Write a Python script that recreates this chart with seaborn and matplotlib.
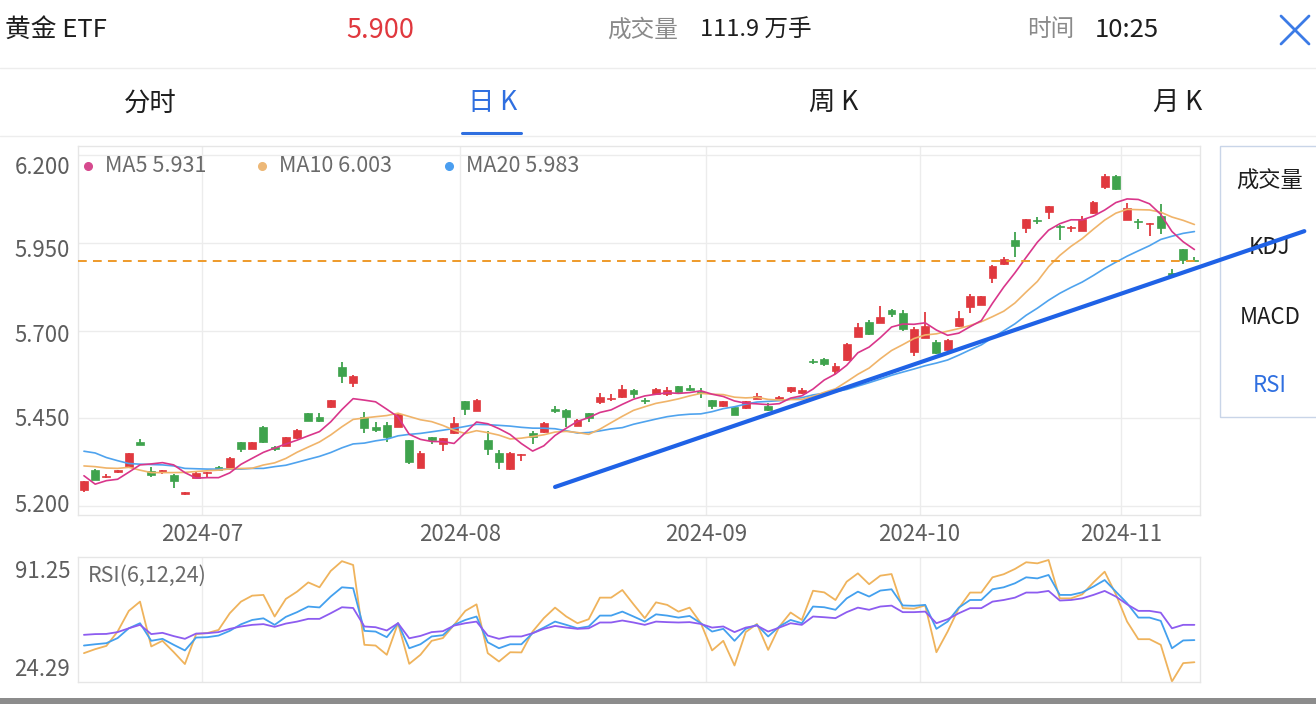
import numpy as np
import pandas as pd
import matplotlib
matplotlib.use("Agg")
import matplotlib.pyplot as plt
from matplotlib.patches import Rectangle
from matplotlib.lines import Line2D
import seaborn as sns

# ---------------- data ----------------
open_ = [5.245, 5.302, 5.282, 5.298, 5.310, 5.383, 5.300, 5.297, 5.289, 5.234,
         5.281, 5.293, 5.310, 5.308, 5.381, 5.362, 5.426, 5.367, 5.372, 5.394,
         5.464, 5.453, 5.481, 5.596, 5.550, 5.453, 5.426, 5.432, 5.426, 5.388,
         5.308, 5.396, 5.376, 5.407, 5.499, 5.472, 5.389, 5.350, 5.304, 5.345,
         5.407, 5.410, 5.476, 5.474, 5.429, 5.464, 5.496, 5.505, 5.510, 5.532,
         5.501, 5.520, 5.520, 5.542, 5.536, 5.526, 5.502, 5.484, 5.481, 5.480,
         5.506, 5.486, 5.506, 5.529, 5.523, 5.612, 5.620, 5.584, 5.615, 5.682,
         5.725, 5.722, 5.760, 5.750, 5.639, 5.680, 5.669, 5.644, 5.712, 5.768,
         5.774, 5.849, 5.889, 5.960, 5.994, 6.016, 6.040, 6.000, 5.992, 5.985,
         6.035, 6.109, 6.142, 6.016, 6.012, 6.004, 6.027, 5.865, 5.932, 5.903]
high = [5.270, 5.304, 5.292, 5.303, 5.352, 5.391, 5.310, 5.303, 5.290, 5.241,
        5.297, 5.297, 5.314, 5.339, 5.383, 5.382, 5.427, 5.371, 5.397, 5.418,
        5.466, 5.466, 5.503, 5.612, 5.573, 5.469, 5.438, 5.438, 5.463, 5.389,
        5.358, 5.397, 5.395, 5.453, 5.500, 5.504, 5.413, 5.359, 5.353, 5.349,
        5.413, 5.438, 5.486, 5.476, 5.447, 5.465, 5.522, 5.518, 5.545, 5.533,
        5.507, 5.535, 5.539, 5.543, 5.545, 5.537, 5.503, 5.499, 5.482, 5.499,
        5.521, 5.493, 5.513, 5.540, 5.536, 5.618, 5.622, 5.607, 5.664, 5.723,
        5.731, 5.770, 5.761, 5.760, 5.710, 5.753, 5.672, 5.675, 5.755, 5.804,
        5.799, 5.886, 5.911, 5.982, 6.020, 6.025, 6.057, 6.002, 5.998, 6.027,
        6.069, 6.146, 6.143, 6.065, 6.020, 6.007, 6.061, 5.877, 5.933, 5.909]
low = [5.241, 5.274, 5.281, 5.295, 5.308, 5.373, 5.283, 5.291, 5.252, 5.232,
       5.280, 5.281, 5.301, 5.307, 5.355, 5.361, 5.380, 5.357, 5.370, 5.392,
       5.441, 5.440, 5.480, 5.550, 5.539, 5.407, 5.410, 5.381, 5.425, 5.319,
       5.307, 5.378, 5.357, 5.405, 5.458, 5.471, 5.346, 5.305, 5.303, 5.329,
       5.378, 5.408, 5.465, 5.426, 5.428, 5.440, 5.491, 5.498, 5.508, 5.508,
       5.491, 5.519, 5.513, 5.518, 5.528, 5.508, 5.477, 5.483, 5.459, 5.477,
       5.505, 5.470, 5.505, 5.523, 5.518, 5.604, 5.600, 5.577, 5.614, 5.681,
       5.689, 5.721, 5.739, 5.699, 5.629, 5.678, 5.634, 5.643, 5.710, 5.751,
       5.773, 5.836, 5.888, 5.911, 5.979, 6.004, 6.020, 5.958, 5.982, 5.984,
       6.034, 6.104, 6.102, 6.015, 5.989, 5.970, 5.976, 5.857, 5.890, 5.898]
close = [5.270, 5.275, 5.284, 5.302, 5.350, 5.374, 5.289, 5.302, 5.270, 5.240,
         5.295, 5.296, 5.302, 5.338, 5.362, 5.381, 5.381, 5.363, 5.396, 5.417,
         5.443, 5.441, 5.502, 5.572, 5.572, 5.422, 5.417, 5.396, 5.462, 5.324,
         5.350, 5.387, 5.394, 5.436, 5.477, 5.503, 5.362, 5.324, 5.352, 5.348,
         5.396, 5.437, 5.472, 5.455, 5.445, 5.451, 5.510, 5.509, 5.534, 5.518,
         5.498, 5.534, 5.531, 5.524, 5.530, 5.523, 5.486, 5.498, 5.460, 5.498,
         5.514, 5.475, 5.512, 5.539, 5.531, 5.610, 5.604, 5.598, 5.663, 5.710,
         5.691, 5.739, 5.749, 5.706, 5.706, 5.712, 5.636, 5.674, 5.737, 5.798,
         5.798, 5.884, 5.904, 5.941, 6.019, 6.014, 6.056, 5.996, 5.997, 6.018,
         6.068, 6.142, 6.103, 6.049, 6.010, 6.006, 5.992, 5.858, 5.902, 5.900]

# moving-average values for the first days (window not yet full)
ma5_lead = [5.286, 5.262, 5.272, 5.276]
ma10_lead = [5.314, 5.312, 5.308, 5.307, 5.310, 5.302, 5.295, 5.295, 5.295]
ma20_lead = [5.356, 5.351, 5.338, 5.329, 5.321, 5.319, 5.318, 5.317, 5.314, 5.307,
             5.306, 5.305, 5.305, 5.305, 5.305, 5.307, 5.307, 5.312, 5.316]

rsi6 = [39.9, 42.1, 43.9, 51.8, 63.2, 68.3, 43.6, 46.7, 40.5, 33.9,
        50.4, 51.0, 52.7, 61.9, 68.3, 71.6, 72.0, 60.1, 69.8, 73.8,
        78.9, 76.2, 85.2, 90.6, 88.5, 44.5, 44.1, 39.0, 56.4, 34.0,
        39.0, 46.7, 48.2, 55.5, 63.2, 66.8, 39.9, 35.3, 40.4, 40.3,
        51.8, 59.2, 65.0, 60.1, 56.4, 58.6, 70.5, 70.5, 74.7, 66.8,
        59.2, 67.9, 66.5, 62.8, 65.0, 56.4, 41.4, 46.7, 33.1, 51.5,
        56.0, 41.7, 54.6, 62.3, 58.2, 74.3, 73.4, 69.2, 79.3, 83.9,
        77.9, 82.6, 83.5, 64.7, 64.4, 66.2, 40.4, 51.8, 64.7, 73.3,
        73.3, 81.7, 83.4, 86.3, 90.0, 89.4, 91.25, 70.1, 70.1, 72.3,
        78.9, 84.8, 72.3, 57.3, 47.6, 47.6, 44.5, 24.29, 34.4, 34.9]
rsi12 = [44.1, 44.8, 45.4, 48.2, 53.6, 56.4, 46.7, 47.8, 44.5, 41.4,
         48.5, 48.7, 49.6, 52.2, 55.8, 58.2, 59.1, 55.5, 59.9, 62.5,
         65.6, 65.1, 71.1, 76.2, 75.7, 52.2, 51.8, 48.7, 56.4, 42.6,
         44.8, 49.1, 49.8, 55.5, 58.2, 60.1, 45.9, 42.6, 44.8, 44.8,
         50.9, 54.0, 57.3, 55.5, 53.6, 54.6, 60.6, 60.6, 62.8, 60.1,
         57.3, 61.3, 60.6, 59.5, 60.4, 56.4, 51.8, 53.3, 46.7, 53.3,
         55.5, 49.1, 54.6, 58.2, 56.4, 65.6, 65.2, 63.8, 70.1, 73.8,
         71.1, 74.4, 75.1, 66.2, 66.0, 66.5, 53.3, 57.3, 65.0, 69.2,
         69.2, 75.1, 76.2, 78.4, 81.7, 81.1, 83.0, 72.0, 72.0, 73.4,
         76.6, 80.2, 73.8, 67.4, 59.5, 59.5, 57.7, 42.6, 46.9, 47.1]
rsi24 = [50.0, 50.4, 50.5, 51.5, 53.6, 55.5, 50.4, 51.1, 49.3, 47.8,
         50.7, 50.9, 51.5, 53.3, 54.6, 55.5, 55.9, 54.4, 56.2, 57.3,
         58.8, 58.8, 61.9, 65.2, 64.8, 54.6, 54.2, 52.4, 56.4, 48.1,
         49.4, 51.5, 52.0, 55.1, 56.4, 57.3, 49.6, 47.8, 49.1, 49.1,
         50.9, 53.3, 54.9, 54.0, 53.3, 53.6, 56.8, 56.8, 57.9, 56.8,
         55.5, 57.3, 57.0, 56.8, 57.0, 56.0, 54.0, 54.6, 51.5, 54.0,
         55.1, 51.8, 54.0, 56.4, 55.5, 60.1, 59.7, 59.2, 62.5, 65.0,
         63.8, 65.6, 66.1, 62.5, 62.5, 62.8, 56.4, 58.6, 61.9, 64.7,
         64.7, 68.3, 69.2, 70.5, 73.3, 73.3, 74.2, 68.9, 69.2, 70.1,
         72.0, 74.2, 71.1, 66.8, 63.2, 63.2, 62.2, 53.6, 55.5, 55.5]

month_labels = ["2024-07", "2024-08", "2024-09", "2024-10", "2024-11"]
month_first_idx = [11, 34, 56, 75, 93]
price_ticks = [5.2, 5.45, 5.7, 5.95, 6.2]
price_tick_labels = ["5.200", "5.450", "5.700", "5.950", "6.200"]
last_price = 5.900
legend_names = ["MA5", "MA10", "MA20"]
legend_values = ["5.931", "6.003", "5.983"]
rsi_max_label, rsi_min_label = "91.25", "24.29"
# hand-drawn trend line (start / end in chart coordinates)
trend_x = [42.0, 108.8]
trend_y = [5.254, 5.984]

# ---------------- style ----------------
sns.set_theme(style="white")
plt.rcParams['font.family'] = ['Noto Sans CJK SC', 'DejaVu Sans']

RED, GREEN = "#E0393F", "#3FA34D"
C_MA5, C_MA10, C_MA20 = "#D9368B", "#F0B46A", "#4FA3EE"
C_R6, C_R12, C_R24 = "#EFB35C", "#43A0EE", "#8D5CF0"
BLUE_UI = "#2F6FE0"
GRID = "#ECECEC"
TXT_GRAY = "#5E5E5E"
FS_TICK = 16
FS_LEG = 15.5

W, H = 1316, 704
fig = plt.figure(figsize=(W / 100, H / 100), dpi=100)
fig.patch.set_facecolor("white")


def T(px, py, s, **kw):
    return fig.text(px / W, 1 - py / H, s, **kw)


def HL(py, x0=0, x1=W, color="#EDEDED", lw=1.0):
    fig.add_artist(Line2D([x0 / W, x1 / W], [1 - py / H, 1 - py / H],
                          transform=fig.transFigure, color=color, lw=lw))


n = len(close)
idx = np.arange(n)
o, c, hi, lo = map(np.asarray, (open_, close, high, low))

# ---------------- main K-line axes ----------------
ax_l, ax_r, ax_t, ax_b = 78, 1200, 146, 515
ax = fig.add_axes([ax_l / W, 1 - ax_b / H, (ax_r - ax_l) / W, (ax_b - ax_t) / H])
ax.set_facecolor("white")

up = c >= o
cols = np.where(up, RED, GREEN)
ax.vlines(idx, lo, hi, colors=cols, lw=1.3, zorder=3)
body_bottom = np.minimum(o, c)
body_h = np.maximum(np.abs(c - o), 0.0025)
ax.bar(idx, body_h, bottom=body_bottom, width=0.7, color=cols,
       edgecolor=cols, lw=0.5, zorder=4)

cs = pd.Series(c)
ma5 = cs.rolling(5).mean().to_numpy()
ma5[:len(ma5_lead)] = ma5_lead
ma10 = cs.rolling(10).mean().to_numpy()
ma10[:len(ma10_lead)] = ma10_lead
ma20 = cs.rolling(20).mean().to_numpy()
ma20[:len(ma20_lead)] = ma20_lead

sns.lineplot(x=idx, y=ma20, ax=ax, color=C_MA20, lw=1.2, zorder=5, legend=False)
sns.lineplot(x=idx, y=ma10, ax=ax, color=C_MA10, lw=1.2, zorder=5, legend=False)
sns.lineplot(x=idx, y=ma5, ax=ax, color=C_MA5, lw=1.2, zorder=6, legend=False)

ax.axhline(last_price, color="#EE9A2A", lw=1.4, ls=(0, (4.5, 3.2)), zorder=6)

ax.set_xlim(-0.53, 99.5)
ax.set_ylim(5.174, 6.227)
ax.set_yticks(price_ticks)
ax.set_yticklabels([])
ax.set_xticks([m - 0.5 for m in month_first_idx])
ax.set_xticklabels(month_labels, fontsize=FS_TICK, color=TXT_GRAY)
ax.tick_params(axis="both", length=0)
ax.tick_params(axis="x", pad=6)
ax.grid(True, color=GRID, lw=1.0)
ax.set_axisbelow(True)
for sp in ax.spines.values():
    sp.set_color("#E6E6E6")
    sp.set_linewidth(1.0)
ax.set_xlabel("")
ax.set_ylabel("")

# y labels (placed as in the reference)
for lab, py in zip(price_tick_labels[::-1], [167, 251, 335, 420, 506]):
    T(70, py, lab, ha="right", va="center", fontsize=FS_TICK, color=TXT_GRAY)

# MA legend
for name, val, col, dx, tx in zip(legend_names, legend_values,
                                  ["#D64A8E", "#EDB877", "#4A9EF0"],
                                  [88, 262, 449], [105, 279, 466]):
    fig.add_artist(Line2D([dx / W], [1 - 166 / H], marker="o", ms=5.5,
                          color=col, transform=fig.transFigure, lw=0))
    T(tx, 166, f"{name} {val}", ha="left", va="center", fontsize=FS_LEG,
      color="#6A6A6A")

# ---------------- RSI axes ----------------
r_t, r_b = 557, 682
axr = fig.add_axes([ax_l / W, 1 - r_b / H, (ax_r - ax_l) / W, (r_b - r_t) / H])
sns.lineplot(x=idx, y=rsi6, ax=axr, color=C_R6, lw=1.3, legend=False)
sns.lineplot(x=idx, y=rsi12, ax=axr, color=C_R12, lw=1.3, legend=False)
sns.lineplot(x=idx, y=rsi24, ax=axr, color=C_R24, lw=1.3, legend=False)
axr.set_xlim(-0.53, 99.5)
axr.set_ylim(24.0, 92.9)
axr.set_xticks([m - 0.5 for m in month_first_idx])
axr.set_xticklabels([])
axr.set_yticks([])
axr.tick_params(length=0)
axr.grid(True, axis="x", color=GRID, lw=1.0)
axr.set_axisbelow(True)
for sp in axr.spines.values():
    sp.set_color("#E6E6E6")
    sp.set_linewidth(1.0)
axr.set_xlabel("")
axr.set_ylabel("")
T(70, 571, rsi_max_label, ha="right", va="center", fontsize=FS_TICK, color=TXT_GRAY)
T(70, 669, rsi_min_label, ha="right", va="center", fontsize=FS_TICK, color=TXT_GRAY)
T(88, 576, "RSI(6,12,24)", ha="left", va="center", fontsize=FS_LEG, color="#6A6A6A")

# ---------------- header ----------------
T(5, 30, "黄金 ETF", ha="left", va="center", fontsize=18.5, color="#1E1E1E")
T(380, 30, "5.900", ha="center", va="center", fontsize=19.5, color="#E0383E")
T(607, 30, "成交量", ha="left", va="center", fontsize=17, color="#8A8A8A")
T(700, 30, "111.9 万手", ha="left", va="center", fontsize=17, color="#1E1E1E")
T(1027, 30, "时间", ha="left", va="center", fontsize=17, color="#8A8A8A")
T(1095, 30, "10:25", ha="left", va="center", fontsize=18.5, color="#1E1E1E")
for (x0, y0, x1, y1) in [(1281, 16, 1309, 44), (1281, 44, 1309, 16)]:
    fig.add_artist(Line2D([x0 / W, x1 / W], [1 - y0 / H, 1 - y1 / H],
                          transform=fig.transFigure, color="#3C7BE6", lw=2.0))
HL(68)

# tabs
T(150, 103, "分时", ha="center", va="center", fontsize=19, color="#1E1E1E")
T(493, 103, "日 K", ha="center", va="center", fontsize=19, color=BLUE_UI)
T(834, 103, "周 K", ha="center", va="center", fontsize=19, color="#1E1E1E")
T(1178, 103, "月 K", ha="center", va="center", fontsize=19, color="#1E1E1E")
fig.add_artist(Line2D([462 / W, 521 / W], [1 - 133 / H, 1 - 133 / H],
                      transform=fig.transFigure, color=BLUE_UI, lw=2.2))
HL(136)

# right indicator panel
fig.add_artist(Rectangle((1220 / W, 1 - 417 / H), 110 / W, 271 / H,
                         transform=fig.transFigure, facecolor="none",
                         edgecolor="#C9D5E8", lw=1.0, clip_on=False))
T(1270, 181, "成交量", ha="center", va="center", fontsize=16, color="#1E1E1E")
T(1270, 248, "KDJ", ha="center", va="center", fontsize=16, color="#1E1E1E")
T(1270, 318, "MACD", ha="center", va="center", fontsize=16, color="#1E1E1E")
T(1270, 385, "RSI", ha="center", va="center", fontsize=16, color=BLUE_UI)

# trend line on top of everything
fig.add_artist(Line2D(trend_x, trend_y, transform=ax.transData, color="#1F62E6",
                      lw=3.0, zorder=20, clip_on=False, solid_capstyle="round"))

# bottom gray strip
fig.add_artist(Rectangle((0, 0), 1, 6 / H, transform=fig.transFigure,
                         facecolor="#8C8C8C", edgecolor="none"))

fig.savefig("out.png", dpi=100, facecolor="white")
